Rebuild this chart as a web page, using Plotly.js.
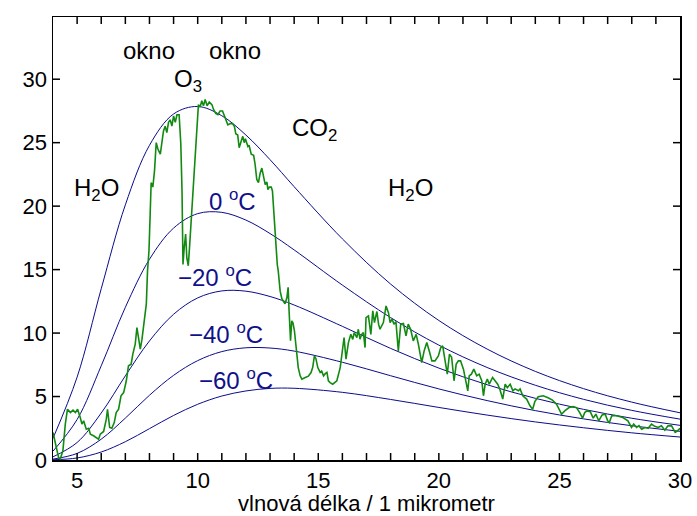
<!DOCTYPE html>
<html>
<head>
<meta charset="utf-8">
<script src="https://cdn.plot.ly/plotly-3.0.1.min.js"></script>
<style>html,body{margin:0;padding:0;background:#fff}#chart{width:697px;height:516px}</style>
</head>
<body>
<div id="chart"></div>
<script>
// wavelength grid of the blackbody curves (micrometres)
const planckLambda = [4,5,6,7,8,9,10,11,12,13,14,16,18,20,22,24,26,28,30];
// curve values
const curveTop  = [1.71,6.53,13.49,20.10,24.79,27.26,27.85,27.12,25.60,23.66,21.53,17.42,13.86,10.99,8.74,6.98,5.62,4.56,3.72];
const curve0    = [0.70,3.19,7.42,12.03,15.81,18.27,19.41,19.51,18.90,17.84,16.55,13.78,11.22,9.05,7.29,5.89,4.78,3.91,3.22];
const curveM20  = [0.25,1.38,3.70,6.63,9.38,11.48,12.77,13.32,13.30,12.88,12.21,10.53,8.79,7.24,5.93,4.86,3.99,3.29,2.73];
const curveM40  = [0.07,0.52,1.64,3.30,5.10,6.67,7.83,8.54,8.84,8.82,8.58,7.70,6.64,5.60,4.68,3.89,3.24,2.70,2.26];
const curveM60  = [0.02,0.16,0.63,1.44,2.47,3.51,4.39,5.04,5.44,5.64,5.65,5.33,4.77,4.14,3.54,3.00,2.54,2.14,1.81];

// measured spectrum (green)
const specLambda = [4.00,4.10,4.23,4.30,4.41,4.51,4.60,4.72,4.83,4.93,5.02,5.13,5.20,5.27,5.38,5.48,5.55,5.68,5.82,5.89,5.96,6.10,6.21,6.26,6.35,6.44,6.54,6.62,6.72,6.82,6.93,7.04,7.13,7.24,7.31,7.41,7.48,7.55,7.62,7.69,7.78,7.87,7.92,7.98,8.03,8.07,8.14,8.21,8.28,8.35,8.45,8.52,8.58,8.65,8.72,8.79,8.86,8.93,9.00,9.07,9.14,9.23,9.30,9.35,9.39,9.44,9.50,9.55,9.61,9.66,9.72,9.80,9.90,9.97,10.03,10.10,10.17,10.24,10.31,10.39,10.48,10.59,10.66,10.75,10.84,10.93,11.03,11.11,11.18,11.25,11.35,11.44,11.52,11.58,11.66,11.72,11.80,11.87,11.93,11.98,12.08,12.13,12.22,12.32,12.38,12.45,12.52,12.59,12.66,12.73,12.80,12.87,12.91,12.97,13.05,13.10,13.14,13.18,13.24,13.30,13.34,13.42,13.49,13.56,13.62,13.70,13.75,13.79,13.85,13.90,13.95,14.01,14.06,14.12,14.17,14.25,14.32,14.46,14.59,14.70,14.77,14.84,14.90,14.98,15.08,15.14,15.22,15.29,15.36,15.42,15.49,15.60,15.77,15.91,16.02,16.07,16.15,16.25,16.35,16.43,16.49,16.60,16.66,16.73,16.80,16.87,16.94,16.98,17.08,17.18,17.26,17.33,17.43,17.50,17.56,17.70,17.81,17.91,17.98,18.06,18.14,18.22,18.32,18.42,18.53,18.64,18.73,18.83,18.94,19.06,19.15,19.29,19.39,19.50,19.62,19.71,19.84,19.98,20.08,20.16,20.26,20.35,20.44,20.53,20.63,20.72,20.81,20.90,21.02,21.16,21.20,21.26,21.35,21.45,21.57,21.67,21.78,21.85,21.92,22.01,22.09,22.23,22.32,22.44,22.53,22.65,22.75,22.84,22.96,23.07,23.16,23.30,23.37,23.48,23.64,23.78,23.89,23.98,24.12,24.33,24.53,24.71,24.88,24.99,25.09,25.22,25.40,25.57,25.71,25.84,25.96,26.05,26.14,26.28,26.40,26.51,26.63,26.77,26.90,27.00,27.07,27.17,27.30,27.44,27.63,27.84,27.99,28.08,28.20,28.30,28.41,28.55,28.68,28.82,28.95,29.10,29.23,29.37,29.50,29.65,29.80,29.90,30.00];
const specValue = [2.17,1.25,0.20,0.07,0.72,2.83,4.00,3.74,3.93,3.74,4.00,3.35,2.83,3.09,2.43,2.50,2.04,1.91,1.77,1.64,2.04,2.25,3.22,4.00,2.56,2.50,2.95,3.74,4.00,5.06,5.31,6.24,7.42,7.55,8.34,9.13,10.43,9.65,8.73,9.52,11.20,12.30,14.90,16.50,19.40,21.85,21.50,22.80,25.00,24.50,24.10,24.90,25.90,26.30,25.80,26.60,26.80,26.30,27.10,26.60,27.20,27.20,24.90,21.20,15.40,16.70,17.80,15.90,15.30,16.70,18.60,21.20,24.30,27.00,28.00,27.80,28.30,27.90,28.40,27.90,28.20,28.00,27.60,27.30,27.20,27.50,27.50,27.10,26.70,26.40,26.50,26.50,26.30,25.70,25.60,24.60,25.10,25.50,25.00,25.30,24.70,24.80,24.10,24.00,23.30,22.10,21.85,22.60,23.00,22.20,21.70,21.90,21.30,21.50,21.50,21.20,19.90,18.30,16.70,15.40,14.90,13.30,12.70,12.50,12.30,12.80,13.60,11.75,9.39,10.96,10.80,10.20,9.13,8.07,7.28,6.63,6.37,6.50,6.60,6.89,7.30,8.20,8.00,7.28,6.90,7.00,6.63,6.80,6.90,6.24,6.10,5.97,6.24,7.28,8.86,9.65,7.94,9.25,9.90,9.50,10.04,9.65,10.30,9.52,9.90,10.04,8.86,11.22,11.35,9.90,11.75,10.83,11.70,10.70,10.30,10.83,12.14,11.61,10.83,11.10,10.70,10.90,8.60,10.70,10.75,9.78,10.70,10.30,9.39,9.90,9.13,7.68,8.60,9.25,8.47,7.81,7.81,8.20,8.86,9.00,7.81,6.76,8.34,8.10,6.24,7.55,7.81,7.81,7.16,5.97,5.45,6.63,6.76,7.16,6.63,6.76,6.24,5.06,5.97,6.37,5.97,6.50,6.24,5.97,5.58,4.80,5.97,5.70,5.97,5.45,5.60,5.45,5.60,5.06,4.80,4.27,4.00,4.60,4.98,5.06,4.90,4.72,4.40,4.00,3.61,3.87,4.13,4.20,4.13,3.74,3.30,3.74,3.87,3.80,3.30,3.61,3.09,3.55,3.61,3.09,2.95,3.48,3.50,3.45,3.35,3.09,2.56,2.83,2.56,2.70,2.43,2.56,2.50,2.83,2.65,2.56,2.70,2.35,2.70,2.69,2.17,2.30,2.50];

// axis ticks
const xTickVals = [5,10,15,20,25,30];
const xMinorTickVals = [5,6,7,8,9,10,11,12,13,14,15,16,17,18,19,20,21,22,23,24,25,26,27,28,29];
const yTickVals = [0,5,10,15,20,25,30];
const yFrameTickVals = [5,10,15,20,25,30];

const curveColor = '#0b0b8c';
const curveLine = {color: curveColor, width: 1, shape: 'spline', smoothing: 1};
const traces = [curveTop, curve0, curveM20, curveM40, curveM60].map(v => ({
  x: planckLambda, y: v, type: 'scatter', mode: 'lines', line: curveLine, hoverinfo: 'skip'
}));
traces.push({x: specLambda, y: specValue, type: 'scatter', mode: 'lines',
  line: {color: '#128a12', width: 1.6}});

const F = 'Liberation Sans, Arial, sans-serif';
function ann(x, y, text, color) {
  return {x: x, y: y, xref: 'x', yref: 'y', text: text, showarrow: false,
    font: {family: F, size: 24, color: color}};
}
const annotations = [
  ann(7.99, 32.3, 'okno', '#000'),
  ann(11.56, 32.3, 'okno', '#000'),
  ann(9.6, 29.9, 'O<sub>3</sub>', '#000'),
  ann(5.8, 21.3, 'H<sub>2</sub>O', '#000'),
  ann(14.83, 26.0, 'CO<sub>2</sub>', '#000'),
  ann(18.81, 21.3, 'H<sub>2</sub>O', '#000'),
  ann(11.44, 20.5, '0 <sup>o</sup>C', '#10108a'),
  ann(10.73, 14.5, '\u221220 <sup>o</sup>C', '#10108a'),
  ann(11.19, 10.0, '\u221240 <sup>o</sup>C', '#10108a'),
  ann(11.6, 6.4, '\u221260 <sup>o</sup>C', '#10108a')
];

// frame tick marks drawn as shapes (inside the box, 7 px long)
const TL = 7;
const tickLine = {color: '#000', width: 1.5};
const shapes = [];
xMinorTickVals.forEach(v => {
  shapes.push({type: 'line', layer: 'above', xref: 'x', yref: 'paper', ysizemode: 'pixel', yanchor: 0,
    x0: v, x1: v, y0: 0, y1: TL, line: tickLine});
  shapes.push({type: 'line', layer: 'above', xref: 'x', yref: 'paper', ysizemode: 'pixel', yanchor: 1,
    x0: v, x1: v, y0: 0, y1: -TL, line: tickLine});
});
yFrameTickVals.forEach(v => {
  shapes.push({type: 'line', layer: 'above', xref: 'paper', yref: 'y', xsizemode: 'pixel', xanchor: 0,
    y0: v, y1: v, x0: 0, x1: TL, line: tickLine});
  shapes.push({type: 'line', layer: 'above', xref: 'paper', yref: 'y', xsizemode: 'pixel', xanchor: 1,
    y0: v, y1: v, x0: 0, x1: -TL, line: tickLine});
});

const layout = {
  width: 697, height: 516,
  margin: {l: 53, r: 17, t: 17, b: 56},
  paper_bgcolor: '#fff', plot_bgcolor: '#fff',
  showlegend: false,
  font: {family: F, size: 22, color: '#000'},
  xaxis: {
    range: [4, 30], tickmode: 'array', tickvals: xTickVals, ticks: '',
    showline: true, linecolor: '#000', linewidth: 1.5, mirror: true,
    showgrid: false, zeroline: false,
    tickfont: {family: F, size: 22, color: '#000'},
    title: {text: 'vlnová délka / 1 mikrometr', font: {family: F, size: 22, color: '#000'}, standoff: 6}
  },
  yaxis: {
    range: [0, 34.9], tickmode: 'array', tickvals: yTickVals, ticks: '',
    showline: true, linecolor: '#000', linewidth: 1.5, mirror: true,
    showgrid: false, zeroline: false,
    tickfont: {family: F, size: 22, color: '#000'}
  },
  shapes: shapes,
  annotations: annotations
};

Plotly.newPlot('chart', traces, layout, {staticPlot: true, displayModeBar: false});
</script>
</body>
</html>
